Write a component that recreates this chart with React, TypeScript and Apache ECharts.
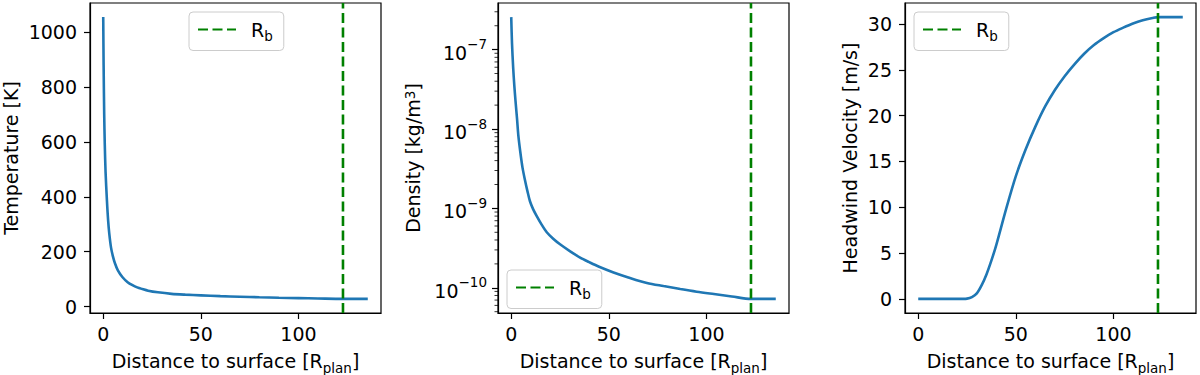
import React, { useEffect, useRef } from "react";
import * as echarts from "echarts";

// ---------- data ----------
const RB = 122.8; // boundary radius R_b

const tempDist = [0, 0.2, 0.5, 0.8, 1.2, 1.9, 2.5, 3.1, 4, 5, 6, 7.5, 9.9, 12.5, 15, 17.4, 20, 23, 28, 35, 42, 50, 60, 70, 80, 90, 100, 110, 122.8, 135.5];
const tempValues = [1055, 880, 700, 590, 490, 386, 315, 266, 215, 182, 158, 132, 107, 89, 78, 70, 64, 58, 52, 46.5, 43.5, 41, 38, 36, 34, 32.3, 30.8, 29.5, 28, 28];

const densDist = [0, 0.4, 1.0, 1.6, 2.2, 3.0, 3.6, 4.6, 5.8, 7.0, 8.3, 9.6, 11.2, 13, 15.5, 18.2, 21.5, 25, 30, 35.3, 40, 45, 52.4, 60, 69.5, 78, 86.6, 95, 103.8, 113, 122.8, 135.5];
const densValues = [2.57e-7, 1.2e-7, 5.89e-8, 3.47e-8, 2.24e-8, 1.32e-8, 8.51e-9, 5.25e-9, 3.24e-9, 2.3e-9, 1.65e-9, 1.23e-9, 9.8e-10, 8.05e-10, 6.3e-10, 5.01e-10, 4.15e-10, 3.53e-10, 2.9e-10, 2.4e-10, 2.1e-10, 1.84e-10, 1.56e-10, 1.35e-10, 1.15e-10, 1.05e-10, 9.64e-11, 8.93e-11, 8.34e-11, 7.78e-11, 7.24e-11, 7.24e-11];

const windDist = [0, 5, 10, 15, 20, 22.5, 25, 27.5, 30, 32.5, 35, 37.5, 40, 45, 50, 55, 60, 65, 70, 75, 80, 85, 90, 95, 100, 105, 110, 115, 120, 122.8, 135.5];
const windValues = [0, 0, 0, 0, 0, 0.005, 0.03, 0.2, 0.6, 1.5, 2.7, 4.2, 5.9, 9.8, 13.4, 16.3, 18.8, 21.0, 22.8, 24.3, 25.6, 26.75, 27.7, 28.45, 29.1, 29.6, 30.05, 30.4, 30.65, 30.75, 30.75];

const xTicks = [0, 50, 100];
const tempTicks = [0, 200, 400, 600, 800, 1000];
const densTicks = [1e-10, 1e-9, 1e-8, 1e-7];
const densMinorTicks = [5e-11, 6e-11, 7e-11, 8e-11, 9e-11, 2e-10, 3e-10, 4e-10, 5e-10, 6e-10, 7e-10, 8e-10, 9e-10, 2e-9, 3e-9, 4e-9, 5e-9, 6e-9, 7e-9, 8e-9, 9e-9, 2e-8, 3e-8, 4e-8, 5e-8, 6e-8, 7e-8, 8e-8, 9e-8, 2e-7, 3e-7];
const windTicks = [0, 5, 10, 15, 20, 25, 30];

// ---------- helpers ----------
const FONT = "DejaVu Sans";
const FS = 19;
const FS_SMALL = 13.5;
const BLUE = "#1f77b4";
const GREEN = "#008000";

function linLimits(values: number[]): [number, number] {
  const lo = Math.min(...values);
  const hi = Math.max(...values);
  const m = (hi - lo) * 0.05;
  return [lo - m, hi + m];
}
function logLimits(values: number[]): [number, number] {
  const lo = Math.log10(Math.min(...values));
  const hi = Math.log10(Math.max(...values));
  const m = (hi - lo) * 0.05;
  return [Math.pow(10, lo - m), Math.pow(10, hi + m)];
}
const zip = (xs: number[], ys: number[]) => xs.map((x, i) => [x, ys[i]]);

export default function App() {
  const ref = useRef<HTMLDivElement>(null);

  useEffect(() => {
    if (!ref.current) return;
    const chart = echarts.init(ref.current, undefined, { renderer: "svg" });

    const [xMin, xMax] = linLimits(tempDist.concat(densDist, windDist));
    const [tMin, tMax] = linLimits(tempValues);
    const [dMin, dMax] = logLimits(densValues);
    const [wMin, wMax] = linLimits(windValues);

    const GW = 291;
    const GH = 310;
    const rects = [
      { left: 90, top: 3, width: GW, height: GH },
      { left: 498, top: 3, width: GW, height: GH },
      { left: 905, top: 3, width: GW, height: GH },
    ];
    const grids: any[] = rects.map((g) => ({
      ...g,
      show: true,
      borderColor: "#000",
      borderWidth: 1.2,
      containLabel: false,
      outerBoundsMode: "none",
    }));

    const axisLineStyle = { color: "#000", width: 1.2 };
    const labelBase = { fontFamily: FONT, fontSize: FS, color: "#000" };
    const plain = (v: number) => String(v);

    const xAxes: any[] = rects.map((_, i) => ({
      type: "value",
      gridIndex: i,
      min: xMin,
      max: xMax,
      axisLine: { show: true, onZero: false, lineStyle: axisLineStyle },
      axisTick: { show: true, length: 6, lineStyle: axisLineStyle, customValues: xTicks },
      axisLabel: { ...labelBase, margin: 11, customValues: xTicks, formatter: plain },
      splitLine: { show: false },
      name: "Distance to surface [R{sub|plan}]",
      nameLocation: "middle",
      nameGap: 34,
      nameTextStyle: {
        ...labelBase,
        lineHeight: 22,
        rich: {
          sub: { fontFamily: FONT, fontSize: FS_SMALL, color: "#000", verticalAlign: "bottom", lineHeight: 27 },
        },
      },
    }));

    const yName = (name: string, gap: number) => ({
      name,
      nameLocation: "middle",
      nameRotate: 90,
      nameGap: gap,
      nameTextStyle: {
        ...labelBase,
        lineHeight: 19,
        rich: {
          sup: { fontFamily: FONT, fontSize: FS_SMALL, color: "#000", verticalAlign: "top", lineHeight: 19 },
        },
      },
    });

    const yAxes: any[] = [
      {
        type: "value",
        gridIndex: 0,
        position: "left",
        min: tMin,
        max: tMax,
        axisLine: { show: true, onZero: false, lineStyle: axisLineStyle },
        axisTick: { show: true, length: 6, lineStyle: axisLineStyle, customValues: tempTicks },
        axisLabel: { ...labelBase, margin: 13, customValues: tempTicks, formatter: plain },
        splitLine: { show: false },
        ...yName("Temperature [K]", 70),
      },
      {
        type: "log",
        logBase: 10,
        gridIndex: 1,
        position: "left",
        min: dMin,
        max: dMax,
        axisLine: { show: true, onZero: false, lineStyle: axisLineStyle },
        axisTick: { show: true, length: 6, lineStyle: axisLineStyle, customValues: densTicks },
        axisLabel: {
          ...labelBase,
          margin: 11,
          customValues: densTicks,
          formatter: (v: number) => {
            const e = Math.round(Math.log10(v));
            return "{b|10}{s|\u2212" + String(-e) + "}";
          },
          rich: {
            b: { fontFamily: FONT, fontSize: FS, color: "#000", verticalAlign: "bottom", lineHeight: 25 },
            s: { fontFamily: FONT, fontSize: FS_SMALL, color: "#000", verticalAlign: "top", lineHeight: 25 },
          },
        },
        splitLine: { show: false },
        ...yName("Density [kg/m{sup|3}]", 76),
      },
      {
        type: "value",
        gridIndex: 2,
        position: "left",
        min: wMin,
        max: wMax,
        axisLine: { show: true, onZero: false, lineStyle: axisLineStyle },
        axisTick: { show: true, length: 6, lineStyle: axisLineStyle, customValues: windTicks },
        axisLabel: { ...labelBase, margin: 13, customValues: windTicks, formatter: plain },
        splitLine: { show: false },
        ...yName("Headwind Velocity [m/s]", 46),
      },
    ];

    const curve = (xi: number, yi: number, xs: number[], ys: number[]) => ({
      type: "line",
      name: "profile",
      xAxisIndex: xi,
      yAxisIndex: yi,
      data: zip(xs, ys),
      symbol: "none",
      smooth: 0.3,
      lineStyle: { color: BLUE, width: 2.6 },
      itemStyle: { color: BLUE },
      silent: true,
      z: 2,
    });
    const rbLine = (xi: number, yi: number, lo: number, hi: number) => ({
      type: "line",
      name: "Rb",
      xAxisIndex: xi,
      yAxisIndex: yi,
      data: [
        [RB, lo],
        [RB, hi],
      ],
      symbol: "none",
      lineStyle: { color: GREEN, width: 2.6, type: [10, 4.5] },
      itemStyle: { color: GREEN },
      silent: true,
      z: 3,
    });
    // minor ticks of the log axis: short marks on the left spine, placed by the log scale
    const minorTicks = {
      type: "scatter",
      name: "minor",
      xAxisIndex: 1,
      yAxisIndex: 1,
      data: densMinorTicks.map((v) => [xMin, v]),
      symbol: "rect",
      symbolSize: [3.5, 1],
      symbolOffset: [-1.75, 0],
      itemStyle: { color: "#000" },
      clip: false,
      silent: true,
      z: 5,
    };

    const legendBase = {
      data: ["Rb"],
      orient: "horizontal",
      itemWidth: 38,
      itemHeight: 14,
      padding: [8, 11, 8, 8],
      backgroundColor: "#ffffff",
      borderColor: "#cccccc",
      borderWidth: 1,
      borderRadius: 4,
      selectedMode: false,
      itemStyle: { opacity: 0 },
      formatter: () => "{r|R}{s|b}",
      textStyle: {
        ...labelBase,
        rich: {
          r: { fontFamily: FONT, fontSize: FS, color: "#000", lineHeight: 22, padding: [0, 0, 0, 10] },
          s: { fontFamily: FONT, fontSize: FS_SMALL, color: "#000", verticalAlign: "bottom", lineHeight: 26 },
        },
      },
    };

    chart.setOption({
      animation: false,
      backgroundColor: "#ffffff",
      grid: grids,
      xAxis: xAxes,
      yAxis: yAxes,
      legend: [
        { ...legendBase, left: 189, top: 12 },
        { ...legendBase, left: 507, top: 270 },
        { ...legendBase, left: 914, top: 12 },
      ],
      series: [
        curve(0, 0, tempDist, tempValues),
        rbLine(0, 0, tMin, tMax),
        curve(1, 1, densDist, densValues),
        rbLine(1, 1, dMin, dMax),
        minorTicks,
        curve(2, 2, windDist, windValues),
        rbLine(2, 2, wMin, wMax),
      ],
    });

    return () => chart.dispose();
  }, []);

  return (
    <div
      ref={ref}
      style={{ position: "absolute", left: 0, top: 0, width: 1200, height: 375, background: "#fff" }}
    />
  );
}
